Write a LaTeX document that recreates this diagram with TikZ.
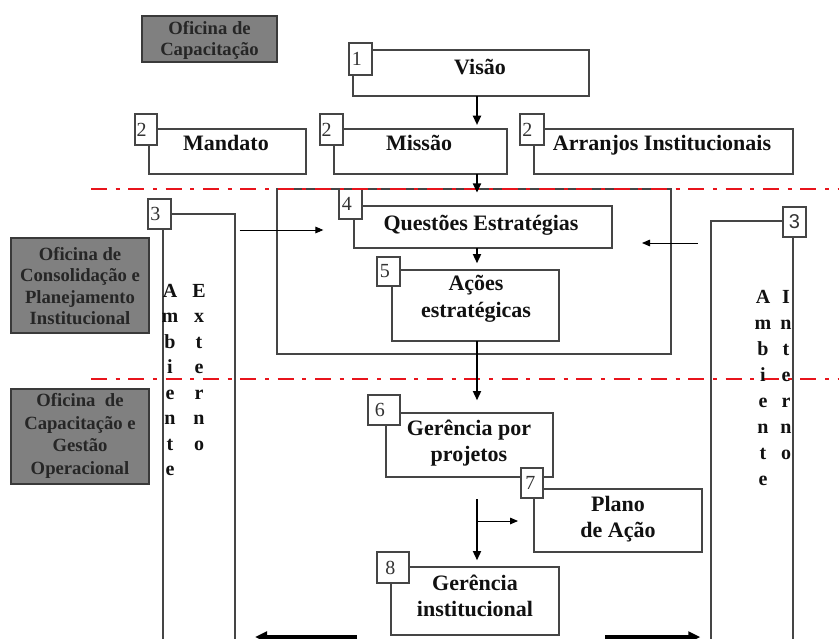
\documentclass[tikz,border=0pt]{standalone}
\usepackage{fontspec}
\setmainfont{Liberation Serif}
\newfontfamily\arialf{Liberation Sans}
\usetikzlibrary{arrows.meta}
\definecolor{boxgray}{HTML}{454545}
\definecolor{grayfill}{HTML}{808080}
\definecolor{grayedge}{HTML}{3A3A3A}
\definecolor{redline}{HTML}{E8141C}
\definecolor{numgray}{HTML}{333333}
\definecolor{txtdark}{HTML}{111111}
\newcommand\mybx[6][box]{\node[#1, minimum width={(#5-#3)*0.75pt}, minimum height={(#6-#4)*0.75pt}] (#2) at (#3,#4) {};}
\begin{document}
\begin{tikzpicture}[x=0.75pt,y=-0.75pt,
 box/.style={draw=boxgray, line width=0.9pt, fill=white, inner sep=0pt, outer sep=0pt, anchor=north west},
 graybox/.style={draw=grayedge, line width=0.9pt, fill=grayfill, inner sep=0pt, outer sep=0pt, anchor=north west},
 numbox/.style={draw=boxgray, line width=0.8pt, fill=white, inner sep=0pt, outer sep=0pt, anchor=north west},
 numtxt/.style={font=\fontsize{15}{15}\selectfont, text=numgray, inner sep=0pt, anchor=west},
 maintxt/.style={font=\bfseries\fontsize{16.5}{20}\selectfont, text=txtdark, align=center, inner sep=0pt},
 graytxt/.style={font=\bfseries\fontsize{14}{16.2}\selectfont, text=black!85, align=center, inner sep=0pt},
 vtxt/.style={font=\bfseries\fontsize{15}{19.1}\selectfont, text=txtdark, align=center, inner sep=0pt, anchor=north},
 arr/.style={-{Triangle[length=7pt,width=6pt]}, line width=1.5pt, black},
 thinarr/.style={-{Triangle[length=6pt,width=5pt]}, line width=0.7pt, black},
 bigarr/.style={-{Triangle[length=9pt,width=8pt]}, line width=3pt, black},
 sepline/.style={draw=redline, line width=2.2pt, dash pattern=on 12pt off 6.5pt on 3pt off 6.5pt},
]
\useasboundingbox (0,0) rectangle (839,639);
% gray workshop boxes
\mybx[graybox]{g1}{142}{16}{277}{62}
\mybx[graybox]{g2}{11}{238}{149}{333}
\mybx[graybox]{g3}{11}{389}{149}{484}
\node[graytxt] (g1t) at (209.5,40.5) {Oficina de\\Capacitação};
\node[graytxt] (g2t) at (80,286) {Oficina de\\Consolidação e\\Planejamento\\Institucional};
\node[graytxt, font=\bfseries\fontsize{14}{16.9}\selectfont] (g3t) at (80,436) {Oficina\ \ de\\Capacitação e\\Gestão\\Operacional};
% environment columns
\mybx{extcol}{163}{214}{235}{650}
\mybx{intcol}{711}{221}{793}{650}
% big strategic frame
\mybx{frame}{277}{189}{671}{354}
% main boxes
\mybx{visao}{353}{50}{589}{96}
\mybx{mandato}{149}{129}{306}{174}
\mybx{missao}{334}{129}{507}{174}
\mybx{arranjos}{534}{129}{793}{174}
\mybx{questoes}{354}{206}{612}{248}
\mybx{acoes}{392}{270}{559}{341}
\mybx{gproj}{386}{413}{553}{477}
\mybx{plano}{534}{489}{702}{552}
\mybx{ginst}{391}{567}{559}{635}
% number labels
\mybx[numbox]{n1}{349}{43}{372}{75}
\mybx[numbox]{n2a}{135}{114}{157}{145}
\mybx[numbox]{n2b}{320}{114}{343}{145}
\mybx[numbox]{n2c}{520}{114}{544}{145}
\mybx[numbox]{n3l}{148}{199}{171}{229}
\mybx[numbox]{n3r}{783}{207}{806}{237}
\mybx[numbox]{n4}{339}{189}{362}{219}
\mybx[numbox]{n5}{377}{257}{400}{286}
\mybx[numbox]{n6}{368}{395}{400}{425}
\mybx[numbox]{n7}{521}{468}{543}{498}
\mybx[numbox]{n8}{377}{552}{409}{583}
\node[numtxt] (t1) at ([xshift=2pt]n1.west) {1};
\node[numtxt] (t2a) at ([xshift=1pt]n2a.west) {2};
\node[numtxt] (t2b) at ([xshift=1pt]n2b.west) {2};
\node[numtxt] (t2c) at ([xshift=1.5pt]n2c.west) {2};
\node[numtxt] (t3l) at ([xshift=1.5pt]n3l.west) {3};
\node[numtxt, anchor=center, font=\arialf\fontsize{15}{15}\selectfont] (t3r) at (n3r.center) {3};
\node[numtxt] (t4) at ([xshift=2pt]n4.west) {4};
\node[numtxt] (t5) at ([xshift=2pt]n5.west) {5};
\node[numtxt] (t6) at ([xshift=5pt]n6.west) {6};
\node[numtxt] (t7) at ([xshift=3pt]n7.west) {7};
\node[numtxt] (t8) at ([xshift=6pt]n8.west) {8};
% red separators
\draw[sepline] (91,189) -- (839,189);
\draw[sepline] (91,379) -- (839,379);
% texts
\node[maintxt, anchor=base] (visaot) at (480,74) {Visão};
\node[maintxt, anchor=base] (mandatot) at (226,150) {Mandato};
\node[maintxt, anchor=base] (missaot) at (419,150) {Missão};
\node[maintxt, anchor=base] (arranjost) at (662,150) {Arranjos Institucionais};
\node[maintxt, anchor=base] (questoest) at (481,230) {Questões Estratégias};
\node[maintxt] (acoest) at (476,299) {Ações\\estratégicas};
\node[maintxt] (gprojt) at (469,443) {Gerência por\\projetos};
\node[maintxt] (planot) at (618,519) {Plano\\de Ação};
\node[maintxt] (ginstt) at (475,596) {Gerência\\institucional};
\node[vtxt] (ambl) at (170,284) {A\\m\\b\\i\\e\\n\\t\\e};
\node[vtxt] (extl) at (199,284) {E\\x\\t\\e\\r\\n\\o};
\node[vtxt, font=\bfseries\fontsize{15}{19.5}\selectfont] (ambr) at (763,290.5) {A\\m\\b\\i\\e\\n\\t\\e};
\node[vtxt, font=\bfseries\fontsize{15}{19.5}\selectfont] (intr) at (786,290.5) {I\\n\\t\\e\\r\\n\\o};
% connectors
\coordinate (ax) at (477,0);
\coordinate (lay) at (0,230);
\coordinate (ray) at (0,243);
\coordinate (by) at (0,637);
\coordinate (br) at (477,521);
\draw[arr, shorten >=3pt] (visao.south -| ax) -- (missao.north -| ax);
\draw[arr, shorten >=10pt] (missao.south -| ax) -- (questoes.north -| ax);
\draw[arr, shorten >=5pt] (questoes.south -| ax) -- (acoes.north -| ax);
\draw[arr, shorten >=9.5pt] (acoes.south -| ax) -- (gproj.north -| ax);
\draw[arr, shorten <=16.5pt, shorten >=5pt] (gproj.south -| ax) -- (ginst.north -| ax);
\draw[thinarr, shorten >=12pt] (br) -- (plano.west |- br);
\draw[thinarr, shorten <=3.5pt, shorten >=23pt] (extcol.east |- lay) -- (questoes.west |- lay);
\draw[thinarr, shorten <=10pt, shorten >=22.5pt] (intcol.west |- ray) -- (questoes.east |- ray);
\draw[bigarr, shorten <=25.5pt, shorten >=15pt] (ginst.west |- by) -- (extcol.east |- by);
\draw[bigarr, shorten <=34.5pt, shorten >=8pt] (ginst.east |- by) -- (intcol.west |- by);
\end{tikzpicture}
\end{document}
